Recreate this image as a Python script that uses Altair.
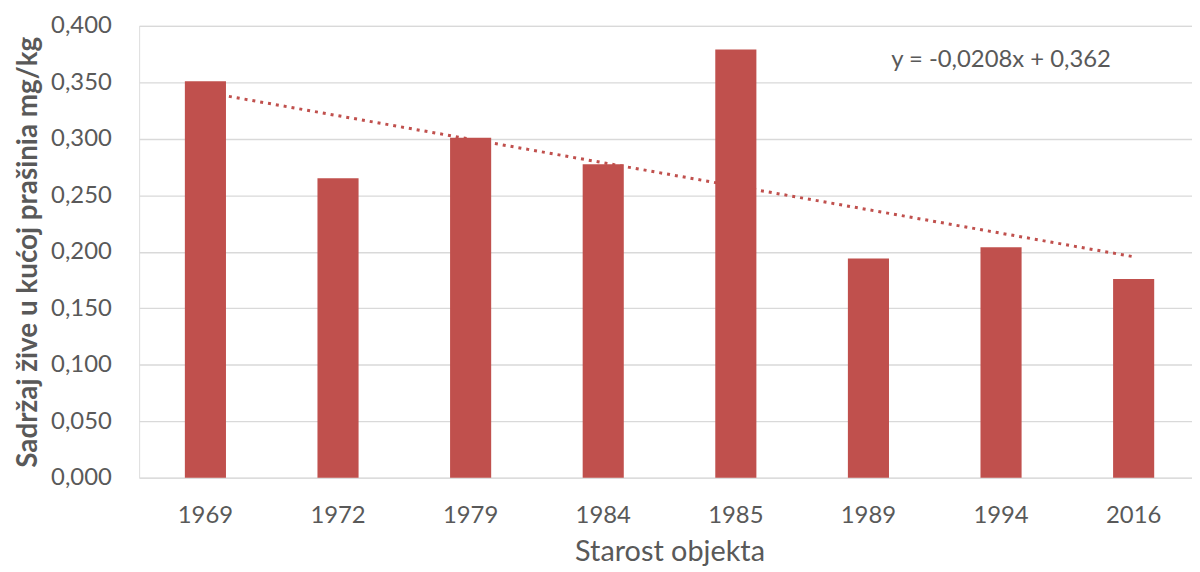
import altair as alt
import pandas as pd

years = ["1969", "1972", "1979", "1984", "1985", "1989", "1994", "2016"]
values = [0.351, 0.265, 0.301, 0.2775, 0.379, 0.194, 0.204, 0.176]

trend_years = ["1969", "2016"]
trend_values = [0.3412, 0.1956]

eq_year = ["1994"]
eq_value = [0.370]
eq_text = ["y = -0,0208x + 0,362"]

y_ticks = [0.0, 0.05, 0.1, 0.15, 0.2, 0.25, 0.3, 0.35, 0.4]

bars_df = pd.DataFrame({"year": years, "value": values})
trend_df = pd.DataFrame({"year": trend_years, "value": trend_values})
eq_df = pd.DataFrame({"year": eq_year, "value": eq_value, "text": eq_text})

FONT = "Lato"
RED = "#C0504D"
GRAY = "#595959"

x_enc = alt.X(
    "year:N",
    sort=years,
    scale=alt.Scale(range=[0, 1068], paddingInner=0.69, paddingOuter=0.345),
    axis=alt.Axis(
        title="Starost objekta",
        labelAngle=0,
        ticks=False,
        domain=False,
        labelPadding=26,
        titlePadding=10,
        labelFontSize=24,
        titleFontSize=29,
        titleFontWeight="normal",
        labelColor=GRAY,
        titleColor=GRAY,
        labelFont=FONT,
        titleFont=FONT,
    ),
)

y_enc = alt.Y(
    "value:Q",
    scale=alt.Scale(domain=[0, 0.4], nice=False),
    axis=alt.Axis(
        title="Sadržaj žive u kućoj prašinia  mg/kg",
        values=y_ticks,
        labelExpr="replace(format(datum.value, '.3f'), '.', ',')",
        ticks=False,
        domain=False,
        labelPadding=28,
        titlePadding=8,
        labelFontSize=24,
        titleFontSize=28,
        titleFontWeight="bold",
        labelColor=GRAY,
        titleColor=GRAY,
        labelFont=FONT,
        titleFont=FONT,
        gridColor="#D9D9D9",
        gridWidth=1.3,
    ),
)

trend = alt.Chart(trend_df).mark_line(
    color=RED, strokeWidth=3, strokeDash=[3, 5], strokeCap="butt"
).encode(x=x_enc, y=y_enc)

bars = alt.Chart(bars_df).mark_bar(color=RED).encode(x=x_enc, y=y_enc)

eq = alt.Chart(eq_df).mark_text(
    font=FONT, fontSize=24, color=GRAY, align="center", baseline="middle"
).encode(x=x_enc, y=y_enc, text="text:N")

chart = (
    alt.layer(trend, bars, eq)
    .properties(
        width=1060,
        height=455,
        autosize=alt.AutoSizeParams(type="none"),
        padding={"left": 132, "top": 16, "right": 0, "bottom": 93},
    )
    .configure_view(stroke=None)
    .configure(background="white")
)

chart.save("out.html", embed_options={"renderer": "svg", "actions": False})
